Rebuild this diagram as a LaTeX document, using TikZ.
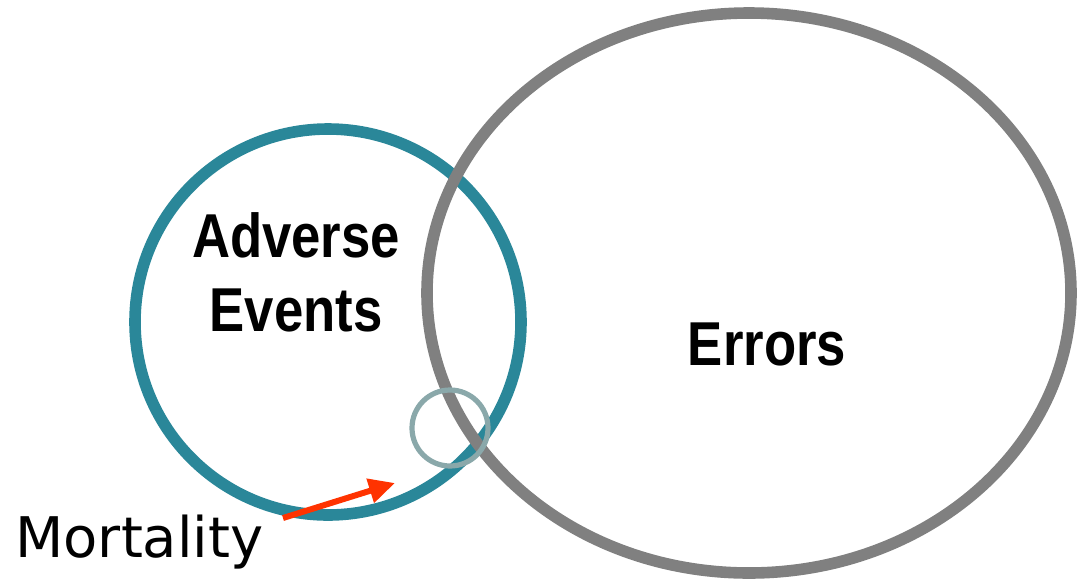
\documentclass[tikz,border=0pt]{standalone}
\usepackage{fontspec}
\setmainfont{Liberation Sans}
\newfontfamily\narrowbold{Liberation Sans}[FakeStretch=0.85]
\newfontfamily\mortfont{DejaVu Sans}
\usetikzlibrary{shapes.geometric, arrows.meta}

\definecolor{aeteal}{HTML}{2A8799}
\definecolor{errgray}{HTML}{808080}
\definecolor{mortring}{HTML}{8AA8AA}
\definecolor{mortred}{HTML}{FF3300}

\tikzset{
  bigword/.style={font=\narrowbold\bfseries\fontsize{31}{37}\selectfont, align=center, inner sep=0pt},
}

\begin{document}
\begin{tikzpicture}[x=0.5pt, y=-0.5pt]

    \useasboundingbox (0,0) rectangle (1078,580);

    % Kreise (Mengen)
    \node[draw=aeteal, line width=5.8pt, circle, inner sep=0pt, minimum size=193pt] (ae) at (328,322) {};
    \node[draw=errgray, line width=5.8pt, ellipse, inner sep=0pt, minimum width=322pt, minimum height=280pt] (err) at (749,293) {};
    \node[draw=mortring, line width=2.6pt, circle, inner sep=0pt, minimum size=38pt] (ring) at (450,428) {};

    % Beschriftungen
    \node[bigword] (aetext) at (296,272) {Adverse\\Events};
    \node[bigword] (errtext) at (767,344) {Errors};
    \node[anchor=base west, inner sep=0pt, font=\mortfont\fontsize{28}{34}\selectfont] (mort) at (15,557) {Mortality};

    % Pfeil
    \coordinate (mstart) at (283,518);
    \coordinate (mend) at (395,483);
    \draw[mortred, line width=3pt, -{Triangle[length=13pt, width=12pt]}] (mstart) -- (mend);

\end{tikzpicture}
\end{document}
